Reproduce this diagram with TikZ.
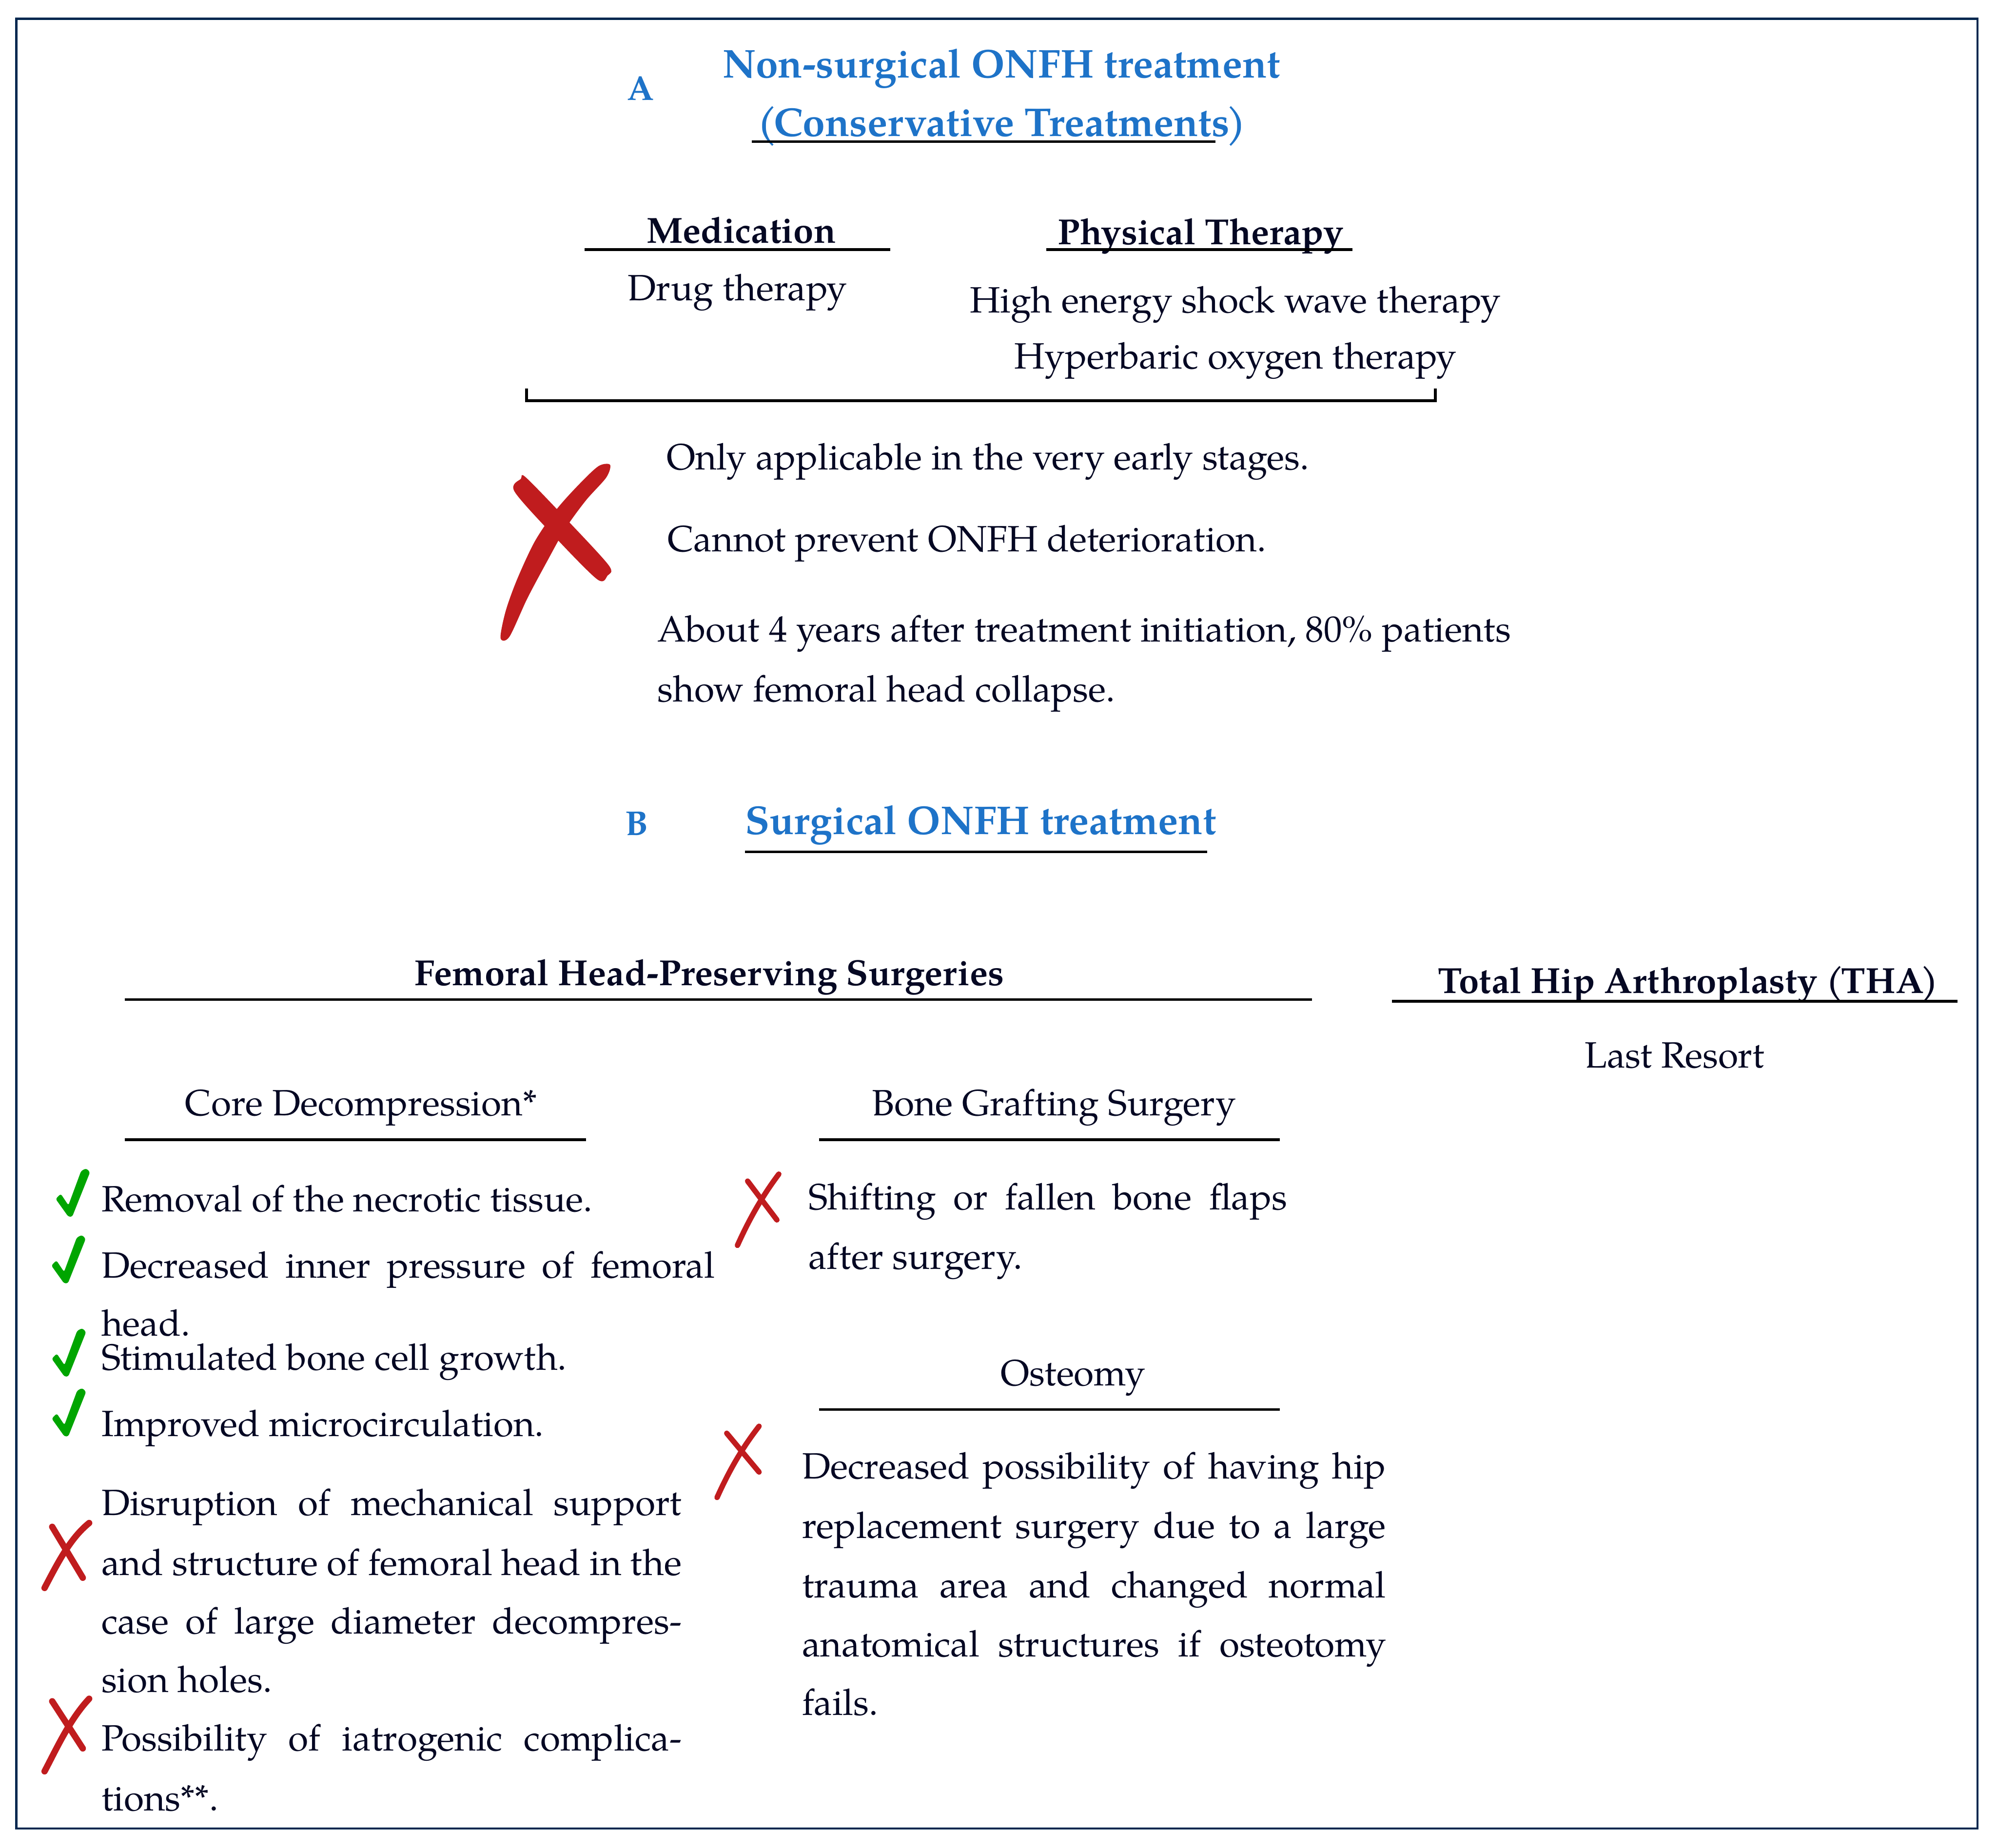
\documentclass[tikz,border=0pt]{standalone}
\usepackage{fontspec}
\setmainfont{TeX Gyre Pagella}
\definecolor{ink}{RGB}{5,8,35}
\definecolor{framenavy}{RGB}{2,40,80}
\definecolor{ttlblue}{RGB}{30,115,200}
\definecolor{xred}{RGB}{192,28,30}
\definecolor{xgreen}{RGB}{0,165,0}
\newcommand\justln[2]{\makebox[#1][s]{#2}}
\tikzset{
  txt/.style={inner sep=0pt, text=ink, font=\fontsize{16.35}{20}\selectfont},
  hd/.style={inner sep=0pt, text=ink, font=\fontsize{16.2}{20}\selectfont\bfseries},
  ttl/.style={inner sep=0pt, text=ttlblue, font=\fontsize{17.95}{22}\selectfont\bfseries},
  lbl/.style={inner sep=0pt, text=ttlblue, font=\fontsize{15.4}{18}\selectfont\bfseries},
  uline/.style={draw=black, line width=0.04cm},
  brush/.style={draw=xred, line cap=round, line width=0.1cm},
  greentick/.pic={
    \fill[xgreen, rounded corners=0.03cm] (-11,-13) -- (-7,-17) -- (-1,-8) -- (9,-35)
      -- (13,-37) -- (16,-34) -- (2,1) -- (-1,1) -- cycle;
  }
}
\begin{document}
\begin{tikzpicture}[x=0.02cm,y=-0.02cm]
\useasboundingbox (0,0) rectangle (1568,1451);
\draw[framenavy, line width=0.034cm] (12.8,14.8) rectangle (1552.6,1435.8);

% A: conservative treatments
\node[lbl, anchor=base] (labA) at (503,78.6) {A};
\node[ttl, anchor=base] (nonsurg) at (786.5,60.9) {Non-surgical ONFH treatment};
\node[ttl, anchor=base] (conserv) at (786.5,107) {(\kern-0.08em Conservative Treatments\kern-0.08em)};
\draw[uline] (590.4,111.1) -- (954.3,111.1);

\node[hd, anchor=base] (med) at (582,190.8) {Medication};
\draw[uline] (459,196) -- (699,196);
\node[hd, anchor=base] (phys) at (942.7,192) {Physical Therapy};
\draw[uline] (821.5,196) -- (1062,196);
\node[txt, anchor=base] (drug) at (579,236) {Drug therapy};
\node[txt, anchor=base] (shock) at (970,245.5) {High energy shock wave therapy};
\node[txt, anchor=base] (hbo) at (970,289.5) {Hyperbaric oxygen therapy};
\draw[line width=0.045cm] (413.3,305) -- (413.3,314.5) -- (1127,314.5) -- (1127,305);

\fill[xred] plot[smooth cycle] coordinates {(393,501) (397,480) (406,455) (420,425) (437,400)
  (455,380) (470,366) (479,365) (476,375) (460,393) (444,415) (430,440) (414,470) (400,500)};
\fill[xred] plot[smooth cycle] coordinates {(404,386) (409,376) (413,375) (445,408) (478,444)
  (477,452) (469,455) (436,422)};
\node[txt, anchor=base west] (early) at (523,369) {Only applicable in the very early stages.};
\node[txt, anchor=base west] (deter) at (524,433) {Cannot prevent ONFH deterioration.};
\node[txt, anchor=base west] (years) at (516,504) {About 4 years after treatment initiation, 80\% patients};
\node[txt, anchor=base west] (collapse) at (516,551) {show femoral head collapse.};

% B: surgical treatments
\node[lbl, anchor=base] (labB) at (500,656) {B};
\node[ttl, anchor=base] (surg) at (770,655) {Surgical ONFH treatment};
\draw[uline] (585,669) -- (948,669);

\node[hd, anchor=base] (fhps) at (557,774) {Femoral Head-Preserving Surgeries};
\draw[uline] (98,785) -- (1030,785);
\node[hd, anchor=base] (tha) at (1325.6,780) {Total Hip Arthroplasty (\kern-0.08em THA\kern-0.08em)};
\draw[uline] (1093,786.3) -- (1537,786.3);
\node[txt, anchor=base] (resort) at (1314.8,838.7) {Last Resort};

\node[txt, anchor=base] (cd) at (283.5,876) {Core Decompression*};
\draw[uline] (98,895) -- (460,895);
\node[txt, anchor=base] (bgs) at (827.5,876) {Bone Grafting Surgery};
\draw[uline] (643,895) -- (1005,895);
\node[txt, anchor=base] (osteo) at (842.5,1088) {Osteomy};
\draw[uline] (643,1107) -- (1005,1107);

% core decompression pros and cons
\pic at (54.7,954.5) {greentick};
\pic at (51.3,1006.8) {greentick};
\pic at (51.6,1080) {greentick};
\pic at (51.6,1127) {greentick};
\node[txt, anchor=base west] (cd1) at (79.3,951.5) {Removal of the necrotic tissue.};
\node[txt, anchor=base west] (cd2) at (79.3,1003.4) {\justln{9.634cm}{Decreased inner pressure of femoral}};
\node[txt, anchor=base west] (cd2b) at (79.3,1049) {head.};
\node[txt, anchor=base west] (cd3) at (79.3,1076) {Stimulated bone cell growth.};
\node[txt, anchor=base west] (cd4) at (79.3,1128) {Improved microcirculation.};

\draw[brush] (35,1247) .. controls (45,1228) and (55,1208) .. (70,1196);
\draw[brush] (41,1199) -- (65,1239);
\node[txt, anchor=base west] (cd5) at (79.3,1190) {\justln{9.114cm}{Disruption of mechanical support}};
\node[txt, anchor=base west] (cd5b) at (79.3,1237) {\justln{9.114cm}{and structure of femoral head in the}};
\node[txt, anchor=base west] (cd5c) at (79.3,1283) {\justln{9.114cm}{case of large diameter decompres-}};
\node[txt, anchor=base west] (cd5d) at (79.3,1329) {sion holes.};
\draw[brush] (35,1391) .. controls (45,1372) and (55,1350) .. (70,1334);
\draw[brush] (41,1336) -- (65,1373);
\node[txt, anchor=base west] (cd6) at (79.3,1375) {\justln{9.114cm}{Possibility of iatrogenic complica-}};
\node[txt, anchor=base west] (cd6b) at (79.3,1422) {tions**.};

% bone grafting and osteomy
\draw[brush, line width=0.085cm] (579,978) .. controls (588,958) and (598,940) .. (611.5,922);
\draw[brush, line width=0.085cm] (587,927.5) -- (610,958);
\node[txt, anchor=base west] (bg1) at (634.5,949.8) {\justln{7.518cm}{Shifting or fallen bone flaps}};
\node[txt, anchor=base west] (bg1b) at (634.5,996.6) {after surgery.};

\draw[brush, line width=0.085cm] (563,1176) .. controls (572,1156) and (582,1138) .. (596,1120);
\draw[brush, line width=0.085cm] (570.6,1125.5) -- (596,1156);
\node[txt, anchor=base west] (os1) at (629.5,1161.4) {\justln{9.17cm}{Decreased possibility of having hip}};
\node[txt, anchor=base west] (os2) at (629.5,1208) {\justln{9.17cm}{replacement surgery due to a large}};
\node[txt, anchor=base west] (os3) at (629.5,1254.6) {\justln{9.17cm}{trauma area and changed normal}};
\node[txt, anchor=base west] (os4) at (629.5,1301.1) {\justln{9.17cm}{anatomical structures if osteotomy}};
\node[txt, anchor=base west] (os5) at (629.5,1346.9) {fails.};
\end{tikzpicture}
\end{document}
